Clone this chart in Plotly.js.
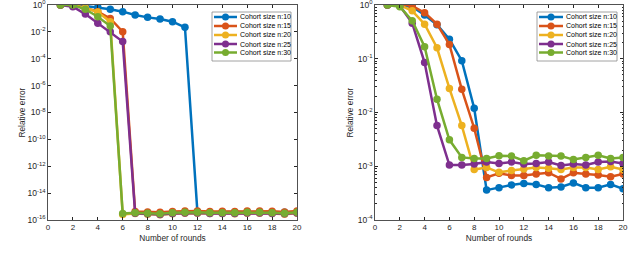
<!DOCTYPE html>
<html><head><meta charset="utf-8">
<script src="https://cdn.plot.ly/plotly-3.0.1.min.js"></script>
<style>html,body{margin:0;padding:0;background:#fff}#c{width:640px;height:260px}</style>
</head><body><div id="c"></div>
<script>
const rounds = [1,2,3,4,5,6,7,8,9,10,11,12,13,14,15,16,17,18,19,20];
const seriesNames = ["Cohort size n:10","Cohort size n:15","Cohort size n:20","Cohort size n:25","Cohort size n:30"];
const colors = ["#0072BD","#D95319","#EDB120","#7E2F8E","#77AC30"];

// Left panel (a)
const leftN10 = [1,1,0.84,0.67,0.48,0.32,0.18,0.12,0.09,0.057,0.022,4.0e-16,3.6e-16,3.9e-16,3.7e-16,4.0e-16,3.9e-16,3.7e-16,3.8e-16,3.9e-16];
const leftN15 = [1,1,0.6,0.32,0.10,0.0103,4.3e-16,4.0e-16,3.7e-16,4.3e-16,4.7e-16,4.7e-16,4.3e-16,4.4e-16,4.3e-16,4.7e-16,4.7e-16,4.4e-16,4.0e-16,4.7e-16];
const leftN20 = [1,1,0.6,0.30,0.057,2.6e-16,3.0e-16,2.7e-16,2.5e-16,2.9e-16,3.2e-16,3.2e-16,3.0e-16,3.0e-16,2.9e-16,3.2e-16,3.2e-16,3.0e-16,2.7e-16,3.2e-16];
const leftN25 = [1,0.75,0.21,0.043,0.0103,0.0019,3.2e-16,2.9e-16,2.6e-16,3.0e-16,3.3e-16,3.3e-16,3.1e-16,3.1e-16,3.0e-16,3.3e-16,3.3e-16,3.1e-16,2.9e-16,3.3e-16];
const leftN30 = [1,1,0.48,0.135,0.027,3.0e-16,3.5e-16,3.2e-16,2.9e-16,3.4e-16,3.8e-16,3.8e-16,3.5e-16,3.5e-16,3.4e-16,3.8e-16,3.8e-16,3.5e-16,3.2e-16,3.8e-16];

// Right panel (b)
const rightN10 = [1,1,0.93,0.65,0.43,0.23,0.092,0.012,3.6e-4,4.0e-4,4.5e-4,4.8e-4,4.6e-4,4.0e-4,4.1e-4,4.9e-4,4.0e-4,4.0e-4,4.6e-4,3.8e-4];
const rightN15 = [1,1.05,0.96,0.72,0.44,0.185,0.027,0.0051,6.2e-4,7.4e-4,6.7e-4,6.7e-4,7.2e-4,7.6e-4,5.8e-4,7.6e-4,7.2e-4,6.9e-4,6.4e-4,7.2e-4];
const rightN20 = [1,1,0.78,0.44,0.16,0.028,0.0057,8.7e-4,9.5e-4,7.7e-4,8.3e-4,8.9e-4,9.5e-4,9.2e-4,8.7e-4,9.5e-4,9.5e-4,8.7e-4,9.8e-4,8.7e-4];
const rightN25 = [1,0.97,0.46,0.085,0.0057,1.05e-3,1.05e-3,1.1e-3,1.2e-3,1.13e-3,1.2e-3,1.1e-3,1.13e-3,1.2e-3,1.03e-3,1.1e-3,1.06e-3,1.2e-3,1.22e-3,1.13e-3];
const rightN30 = [1,0.93,0.51,0.168,0.0177,0.0031,1.46e-3,1.4e-3,1.4e-3,1.57e-3,1.55e-3,1.27e-3,1.6e-3,1.55e-3,1.55e-3,1.33e-3,1.46e-3,1.6e-3,1.4e-3,1.46e-3];

const xTickVals = [0,2,4,6,8,10,12,14,16,18,20];
const leftYTickExp = [-16,-14,-12,-10,-8,-6,-4,-2,0];
const rightYTickExp = [-4,-3,-2,-1,0];

const leftData = [leftN10,leftN15,leftN20,leftN25,leftN30];
const rightData = [rightN10,rightN15,rightN20,rightN25,rightN30];

const traces = [];
leftData.forEach((ys,i)=>{
  traces.push({x:rounds,y:ys,type:'scatter',mode:'lines+markers',name:seriesNames[i],
    xaxis:'x',yaxis:'y',showlegend:false,
    line:{color:colors[i],width:2.5},marker:{color:colors[i],size:7.5}});
});
rightData.forEach((ys,i)=>{
  traces.push({x:rounds,y:ys,type:'scatter',mode:'lines+markers',name:seriesNames[i],
    xaxis:'x2',yaxis:'y2',showlegend:false,
    line:{color:colors[i],width:2.5},marker:{color:colors[i],size:7.5}});
});

const W = 640, H = 260;
const px = v => v / W, py = v => 1 - v / H;
const axCol = '#262626';
const fam = 'Liberation Sans, Arial, sans-serif';
const tickFont = {family:fam,size:8,color:axCol};
const yTickFont = {family:fam,size:8.5,color:axCol};
const titleFont = {family:fam,size:8.3,color:axCol};
const baseX = {range:[0,20],tickvals:xTickVals,ticks:'inside',ticklen:3,tickcolor:axCol,
  showline:true,linecolor:axCol,linewidth:0.8,mirror:'ticks',showgrid:false,zeroline:false,
  tickfont:tickFont,ticklabeloverflow:'allow',title:{text:'Number of rounds',font:titleFont,standoff:3}};
const baseY = {type:'log',ticks:'inside',ticklen:3,tickcolor:axCol,showline:true,linecolor:axCol,
  linewidth:0.8,mirror:'ticks',showgrid:false,zeroline:false,
  ticklabeloverflow:'allow',tickfont:yTickFont};
const powText = e => '10<sup>' + e + '</sup>';

// manual legends (MATLAB style, compact)
const shapes = [], annotations = [];
function addLegend(boxL, boxR, lineL, lineR, textX) {
  const top = 12, bottom = 61, rows = [17, 26, 35, 44, 52.5];
  shapes.push({type:'rect',xref:'paper',yref:'paper',x0:px(boxL),x1:px(boxR),y0:py(bottom),y1:py(top),
    line:{color:'#8c8c8c',width:0.8},fillcolor:'#ffffff',layer:'above'});
  seriesNames.forEach((nm,i)=>{
    const yy = py(rows[i]);
    shapes.push({type:'line',xref:'paper',yref:'paper',x0:px(lineL),x1:px(lineR),y0:yy,y1:yy,
      line:{color:colors[i],width:2.5},layer:'above'});
    const cx = px((lineL+lineR)/2);
    shapes.push({type:'circle',xref:'paper',yref:'paper',xsizemode:'pixel',ysizemode:'pixel',
      xanchor:cx,yanchor:yy,x0:-3.5,x1:3.5,y0:-3.5,y1:3.5,
      line:{color:colors[i],width:0},fillcolor:colors[i],layer:'above'});
    annotations.push({xref:'paper',yref:'paper',x:px(textX),y:yy,xanchor:'left',yanchor:'middle',
      text:nm,showarrow:false,font:{family:fam,size:7,color:'#000'}});
  });
}
addLegend(212, 291, 214, 237, 237.5);
addLegend(537, 617, 539, 563, 564);

// y-axis titles
[[21,'Relative error'],[349,'Relative error']].forEach(([xx,t])=>{
  annotations.push({xref:'paper',yref:'paper',x:px(xx),y:py(112.5),xanchor:'center',yanchor:'middle',
    textangle:-90,text:t,showarrow:false,font:titleFont});
});

const layout = {
  width:W,height:H,margin:{l:0,r:0,t:0,b:0},
  paper_bgcolor:'#fff',plot_bgcolor:'#fff',showlegend:false,
  xaxis:Object.assign({},baseX,{domain:[px(48),px(297)],anchor:'y'}),
  yaxis:Object.assign({},baseY,{domain:[py(220),py(5)],anchor:'x',range:[-16,0],
    tickvals:leftYTickExp.map(e=>Math.pow(10,e)),ticktext:leftYTickExp.map(powText)}),
  xaxis2:Object.assign({},baseX,{domain:[px(375),px(623)],anchor:'y2'}),
  yaxis2:Object.assign({},baseY,{domain:[py(220),py(5)],anchor:'x2',range:[-4,0],
    tickvals:rightYTickExp.map(e=>Math.pow(10,e)),ticktext:rightYTickExp.map(powText),
    minor:{ticks:'inside',ticklen:1.5,tickcolor:axCol,showgrid:false,dtick:'D1'}}),
  shapes:shapes,annotations:annotations
};
Plotly.newPlot('c',traces,layout,{displayModeBar:false,staticPlot:true});
</script></body></html>
